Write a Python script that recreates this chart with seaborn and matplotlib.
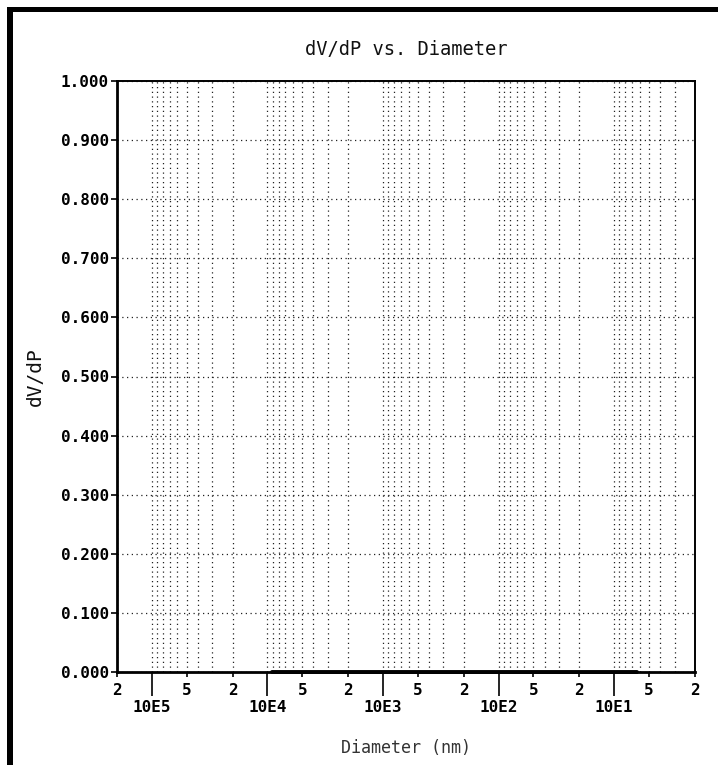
import numpy as np
import pandas as pd
import matplotlib
matplotlib.use("Agg")
import matplotlib.pyplot as plt
import seaborn as sns
from matplotlib.ticker import FixedLocator, FixedFormatter, FuncFormatter
from matplotlib.patches import Rectangle

# ---- data ----
diameters_nm = [9200, 6000, 4000, 2500, 1500, 1000, 600, 400, 250, 150,
                100, 60, 40, 25, 15, 10, 8, 6.4]
dvdp_values = [0.0, 0.0, 0.0, 0.0, 0.0, 0.0, 0.0, 0.0, 0.0, 0.0,
               0.0, 0.0, 0.0, 0.0, 0.0, 0.0, 0.0, 0.0]

title_text = "dV/dP vs. Diameter"
x_label = "Diameter (nm)"
y_label = "dV/dP"

y_ticks = [0.0, 0.1, 0.2, 0.3, 0.4, 0.5, 0.6, 0.7, 0.8, 0.9, 1.0]
y_tick_labels = ["0.000", "0.100", "0.200", "0.300", "0.400", "0.500",
                 "0.600", "0.700", "0.800", "0.900", "1.000"]

decade_ticks = [1e5, 1e4, 1e3, 1e2, 1e1]
decade_labels = ["10E5", "10E4", "10E3", "10E2", "10E1"]

minor_label_ticks = [2e5, 5e4, 2e4, 5e3, 2e3, 5e2, 2e2, 50, 20, 5, 2]
minor_labels = ["2", "5", "2", "5", "2", "5", "2", "5", "2", "5", "2"]

x_limits = (2e5, 2)

df = pd.DataFrame({"diameter": diameters_nm, "dvdp": dvdp_values})

# ---- figure ----
sns.set_theme(style="white")
plt.rcParams["font.family"] = ["DejaVu Sans Mono", "DejaVu Sans"]

fig = plt.figure(figsize=(7.18, 7.65), dpi=100)
ax = fig.add_axes([117 / 718, 1 - 672 / 765, (695 - 117) / 718, (672 - 81) / 765])

sns.lineplot(data=df, x="diameter", y="dvdp", ax=ax, color="black",
             linewidth=2.8, clip_on=False, zorder=5)

ax.set_xscale("log")
ax.set_xlim(*x_limits)
ax.set_ylim(0, 1)

# grid positions (2..9 multiples and decades inside the range)
lo, hi = min(x_limits), max(x_limits)
grid_pos = [m * 10.0 ** e for e in range(0, 7) for m in range(1, 10)
            if lo <= m * 10.0 ** e <= hi and m != 1]
label_map = {round(v, 6): l for v, l in zip(minor_label_ticks, minor_labels)}

ax.xaxis.set_major_locator(FixedLocator(decade_ticks))
ax.xaxis.set_major_formatter(FixedFormatter(decade_labels))
ax.xaxis.set_minor_locator(FixedLocator(grid_pos))
ax.xaxis.set_minor_formatter(FuncFormatter(lambda v, p: label_map.get(round(v, 6), "")))

ax.set_yticks(y_ticks)
ax.set_yticklabels(y_tick_labels)

ax.tick_params(axis="x", which="major", direction="out", length=17, width=1.2,
               pad=3.5, labelsize=11.5, colors="black", bottom=True)
ax.tick_params(axis="x", which="minor", direction="out", length=3.5, width=1.2,
               pad=4.5, labelsize=11.5, colors="black", bottom=True)
ax.tick_params(axis="y", which="major", direction="out", length=4, width=1.2,
               pad=2, labelsize=11.5, colors="black", left=True)
for lab in ax.get_xticklabels(which="both") + ax.get_yticklabels():
    lab.set_fontweight("bold")

# hide tick marks of unlabeled minor positions
for loc, t in zip(grid_pos, ax.xaxis.get_minor_ticks(len(grid_pos))):
    if round(loc, 6) not in label_map:
        t.tick1line.set_visible(False)

grid_kw = dict(color="#222222", linestyle=(0, (1, 2.8)), linewidth=0.9)
ax.grid(True, which="both", axis="x", **grid_kw)
ax.grid(True, which="major", axis="y", **grid_kw)

for side, lw in [("left", 2.0), ("bottom", 2.0), ("top", 1.4), ("right", 1.4)]:
    ax.spines[side].set_visible(True)
    ax.spines[side].set_color("black")
    ax.spines[side].set_linewidth(lw)

ax.set_title(title_text, fontsize=13.5, pad=19, color="#111111")
ax.set_xlabel(x_label, fontsize=12, labelpad=17, color="#333333")
ax.set_ylabel(y_label, fontsize=14, labelpad=11, color="#111111")

# scanned page frame (top and left black bars)
fig.add_artist(Rectangle((7 / 718, 1 - 12 / 765), 1 - 7 / 718, 5 / 765,
                         transform=fig.transFigure, color="black", lw=0))
fig.add_artist(Rectangle((7 / 718, 0), 6 / 718, 1 - 7 / 765,
                         transform=fig.transFigure, color="black", lw=0))

fig.savefig("out.png", dpi=100)
